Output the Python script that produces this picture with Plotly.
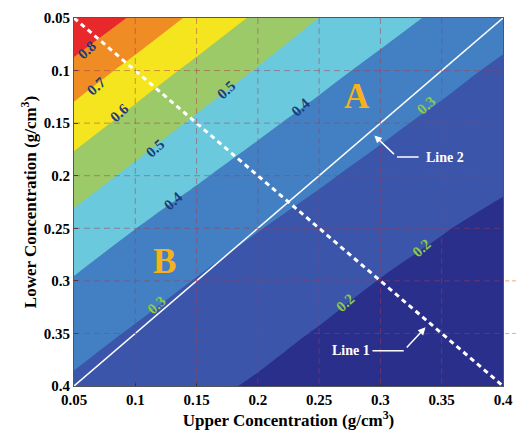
import plotly.graph_objects as go

# ---------------- data ----------------
upper_conc = [0.05, 0.10, 0.15, 0.20, 0.25, 0.30, 0.35, 0.40]   # x
lower_conc = [0.05, 0.10, 0.15, 0.20, 0.25, 0.30, 0.35, 0.40]   # y
# estimated values (rows = lower conc, cols = upper conc)
z_row_005 = [0.893, 0.784, 0.676, 0.583, 0.499, 0.438, 0.382, 0.334]
z_row_010 = [0.768, 0.664, 0.573, 0.493, 0.429, 0.374, 0.326, 0.285]
z_row_015 = [0.653, 0.563, 0.484, 0.420, 0.367, 0.318, 0.280, 0.247]
z_row_020 = [0.553, 0.476, 0.411, 0.359, 0.311, 0.274, 0.242, 0.210]
z_row_025 = [0.467, 0.401, 0.351, 0.303, 0.268, 0.235, 0.203, 0.185]
z_row_030 = [0.393, 0.344, 0.296, 0.262, 0.229, 0.198, 0.182, 0.165]
z_row_035 = [0.336, 0.290, 0.256, 0.223, 0.195, 0.178, 0.162, 0.145]
z_row_040 = [0.285, 0.250, 0.217, 0.192, 0.175, 0.158, 0.142, 0.125]

line1_x = [0.05, 0.40]
line1_y = [0.05, 0.40]
line2_x = [0.05, 0.40]
line2_y = [0.40, 0.05]

tick_vals = [0.05, 0.10, 0.15, 0.20, 0.25, 0.30, 0.35, 0.40]
tick_text = ["0.05", "0.1", "0.15", "0.2", "0.25", "0.3", "0.35", "0.4"]

band_colors = ["#2a2f8c", "#3a55aa", "#427fc3", "#6ac9dd",
               "#9dca68", "#f4e51e", "#f08c24", "#e8282a"]

z = [z_row_005, z_row_010, z_row_015, z_row_020,
     z_row_025, z_row_030, z_row_035, z_row_040]

# stepped colourscale (8 bands between 0.1 and 0.9)
n = len(band_colors)
cscale = []
for i, c in enumerate(band_colors):
    cscale.append([i / n, c])
    cscale.append([(i + 1) / n, c])

fig = go.Figure()
fig.add_trace(go.Contour(
    x=upper_conc, y=lower_conc, z=z,
    zmin=0.1, zmax=0.9, colorscale=cscale, showscale=False,
    contours=dict(start=0.2, end=0.8, size=0.1, coloring="fill", showlines=False),
    line=dict(width=0), hoverinfo="skip",
))

fig.add_trace(go.Scatter(x=line1_x, y=line1_y, mode="lines",
                         line=dict(color="white", width=3, dash="5px,4px"),
                         showlegend=False, hoverinfo="skip"))
fig.add_trace(go.Scatter(x=line2_x, y=line2_y, mode="lines",
                         line=dict(color="white", width=1.5),
                         showlegend=False, hoverinfo="skip"))

serif = "Liberation Serif"

shapes = []
grid_col = "rgba(170,60,80,0.5)"
for v in tick_vals[1:-1]:
    shapes.append(dict(type="line", xref="x", yref="y", x0=v, x1=v, y0=0.05, y1=0.4,
                       line=dict(color=grid_col, width=1, dash="6px,4px"), layer="above"))
    shapes.append(dict(type="line", xref="x", yref="y", y0=v, y1=v, x0=0.05, x1=0.4,
                       line=dict(color=grid_col, width=1, dash="6px,4px"), layer="above"))
# little orange dashes outside right edge
for v in [0.3, 0.35]:
    shapes.append(dict(type="line", xref="paper", yref="y", x0=1.005, x1=1.03, y0=v, y1=v,
                       line=dict(color="rgba(240,140,60,0.8)", width=1, dash="4px,3px")))
# callout horizontal segments
shapes.append(dict(type="line", xref="x", yref="y", x0=0.3135, x1=0.3312, y0=0.1822, y1=0.1822,
                   line=dict(color="white", width=1.5)))
shapes.append(dict(type="line", xref="x", yref="y", x0=0.2935, x1=0.319, y0=0.3665, y1=0.3665,
                   line=dict(color="white", width=1.5)))

ann = []
navy = "#1d3b78"
green = "#8ccc45"
labels = [
    ("0.8", 0.0604, 0.0800, navy),
    ("0.7", 0.0684, 0.1150, navy),
    ("0.6", 0.0869, 0.1403, navy),
    ("0.5", 0.1742, 0.1185, navy),
    ("0.5", 0.1165, 0.1740, navy),
    ("0.4", 0.1309, 0.2245, navy),
    ("0.4", 0.2350, 0.1345, navy),
    ("0.3", 0.3376, 0.1330, green),
    ("0.3", 0.1173, 0.3228, green),
    ("0.2", 0.3336, 0.2685, green),
    ("0.2", 0.2711, 0.3210, green),
]
for t, xx, yy, col in labels:
    ann.append(dict(x=xx, y=yy, xref="x", yref="y", text=t, showarrow=False,
                    textangle=-42, font=dict(family=serif, size=15, color=col, weight="bold")))

ann.append(dict(x=0.2807, y=0.1250, xref="x", yref="y", text="A", showarrow=False,
                font=dict(family=serif, size=35, color="#f6b21c", weight="bold")))
ann.append(dict(x=0.1237, y=0.2818, xref="x", yref="y", text="B", showarrow=False,
                font=dict(family=serif, size=35, color="#f6b21c", weight="bold")))

# arrows
ann.append(dict(x=0.295, y=0.1617, ax=0.3135, ay=0.1822, xref="x", yref="y",
                axref="x", ayref="y", text=" ", showarrow=True, arrowhead=2,
                arrowsize=1, arrowwidth=1.5, arrowcolor="white"))
ann.append(dict(x=0.3368, y=0.3442, ax=0.319, ay=0.3665, xref="x", yref="y",
                axref="x", ayref="y", text=" ", showarrow=True, arrowhead=2,
                arrowsize=1, arrowwidth=1.5, arrowcolor="white"))
ann.append(dict(x=0.3528, y=0.1822, xref="x", yref="y", text="Line 2", showarrow=False,
                font=dict(family=serif, size=14, color="white", weight="bold")))
ann.append(dict(x=0.2759, y=0.3665, xref="x", yref="y", text="Line 1", showarrow=False,
                font=dict(family=serif, size=14, color="white", weight="bold")))

axis_common = dict(
    tickvals=tick_vals, ticktext=tick_text, showgrid=False, zeroline=False,
    showline=True, mirror=True, linecolor="#555", linewidth=1,
    ticks="inside", ticklen=4, tickcolor="#333",
    tickfont=dict(family=serif, size=15, color="black", weight="bold"),
)

fig.update_layout(
    width=523, height=439,
    margin=dict(l=74, r=12, t=10, b=53),
    paper_bgcolor="white", plot_bgcolor="white",
    showlegend=False,
    shapes=shapes, annotations=ann,
    xaxis=dict(range=[0.05, 0.4],
               title=dict(text="Upper Concentration (g/cm<sup>3</sup>)", standoff=4,
                          font=dict(family=serif, size=17, color="black", weight="bold")),
               **axis_common),
    yaxis=dict(range=[0.4, 0.05],
               title=dict(text="Lower Concentration (g/cm<sup>3</sup>)", standoff=2,
                          font=dict(family=serif, size=17, color="black", weight="bold")),
               **axis_common),
)

fig.write_html("out.html")
